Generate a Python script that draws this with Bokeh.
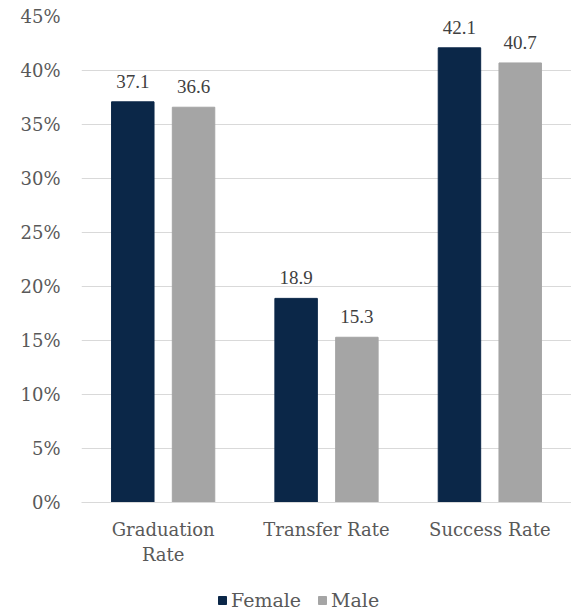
from bokeh.plotting import figure
from bokeh.layouts import column
from bokeh.models import ColumnDataSource, FactorRange, Legend, LegendItem, NumeralTickFormatter, LabelSet, FixedTicker
from bokeh.transform import dodge
from bokeh.embed import file_html
from bokeh.resources import INLINE

categories = ["Graduation\nRate", "Transfer Rate", "Success Rate"]
female = [37.1, 18.9, 42.1]
male = [36.6, 15.3, 40.7]
series = ["Female", "Male"]
y_ticks = [0, 5, 10, 15, 20, 25, 30, 35, 40, 45]

FONT = "DejaVu Serif"
TEXT = "#595959"
NAVY = "#0B2748"
GRAY = "#A5A5A5"

src = ColumnDataSource(dict(
    cat=categories,
    female=female,
    male=male,
    flab=[f"{v:.1f}" for v in female],
    mlab=[f"{v:.1f}" for v in male],
))

p = figure(x_range=FactorRange(*categories, range_padding=0), y_range=(0, 45),
           width=571, height=585, output_backend="svg", toolbar_location=None,
           min_border_left=81, min_border_right=0, min_border_top=16, min_border_bottom=83)
p.outline_line_color = None
p.background_fill_color = "white"

rf = p.vbar(x=dodge("cat", -0.186, range=p.x_range), top="female", width=0.26, source=src,
            fill_color=NAVY, line_color=NAVY)
rm = p.vbar(x=dodge("cat", 0.186, range=p.x_range), top="male", width=0.26, source=src,
            fill_color=GRAY, line_color=GRAY)

for col, lab, off in (("female", "flab", -0.186), ("male", "mlab", 0.186)):
    ls = LabelSet(x=dodge("cat", off, range=p.x_range), y=col, text=lab, source=src,
                  text_align="center", text_baseline="alphabetic", y_offset=14,
                  text_font=FONT, text_font_size="19px", text_color="#404040")
    p.add_layout(ls)

p.yaxis.ticker = FixedTicker(ticks=y_ticks)
p.yaxis.formatter = NumeralTickFormatter(format="0")
p.yaxis.major_label_overrides = {t: f"{t}%" for t in y_ticks}
p.yaxis.axis_line_color = None
p.yaxis.major_tick_line_color = None
p.yaxis.minor_tick_line_color = None
p.yaxis.major_label_standoff = 15
p.yaxis.major_label_text_font = FONT
p.yaxis.major_label_text_font_size = "18px"
p.yaxis.major_label_text_color = TEXT

p.xaxis.axis_line_color = "#D9D9D9"
p.xaxis.major_tick_line_color = None
p.xaxis.minor_tick_line_color = None
p.xaxis.major_label_standoff = 10
p.xaxis.major_label_text_font = FONT
p.xaxis.major_label_text_font_size = "18px"
p.xaxis.major_label_text_color = TEXT
p.xaxis.major_label_text_line_height = 1.2

p.xgrid.grid_line_color = None
p.ygrid.grid_line_color = "#D9D9D9"
p.ygrid.grid_line_width = 1

# legend strip below the chart
lg = figure(width=571, height=30, x_range=(0, 1), y_range=(0, 1),
            x_axis_location=None, y_axis_location=None,
            output_backend="svg", toolbar_location=None,
            min_border_left=0, min_border_right=0, min_border_top=0, min_border_bottom=0)
lg.grid.visible = False
lg.outline_line_color = None
lf = lg.vbar(x=[-5], top=[-5], width=0.1, fill_color=NAVY, line_color=NAVY)
lm = lg.vbar(x=[-5], top=[-5], width=0.1, fill_color=GRAY, line_color=GRAY)
legend = Legend(items=[LegendItem(label=series[0], renderers=[lf]),
                       LegendItem(label=series[1], renderers=[lm])],
                orientation="horizontal", location=(136, 4),
                border_line_color=None, background_fill_alpha=0,
                glyph_width=10, glyph_height=10, label_standoff=4, spacing=16,
                padding=0, margin=0,
                label_text_font=FONT, label_text_font_size="19px", label_text_color=TEXT)
lg.add_layout(legend, "center")

open("out.html", "w").write(file_html(column(p, lg, spacing=0), INLINE))
